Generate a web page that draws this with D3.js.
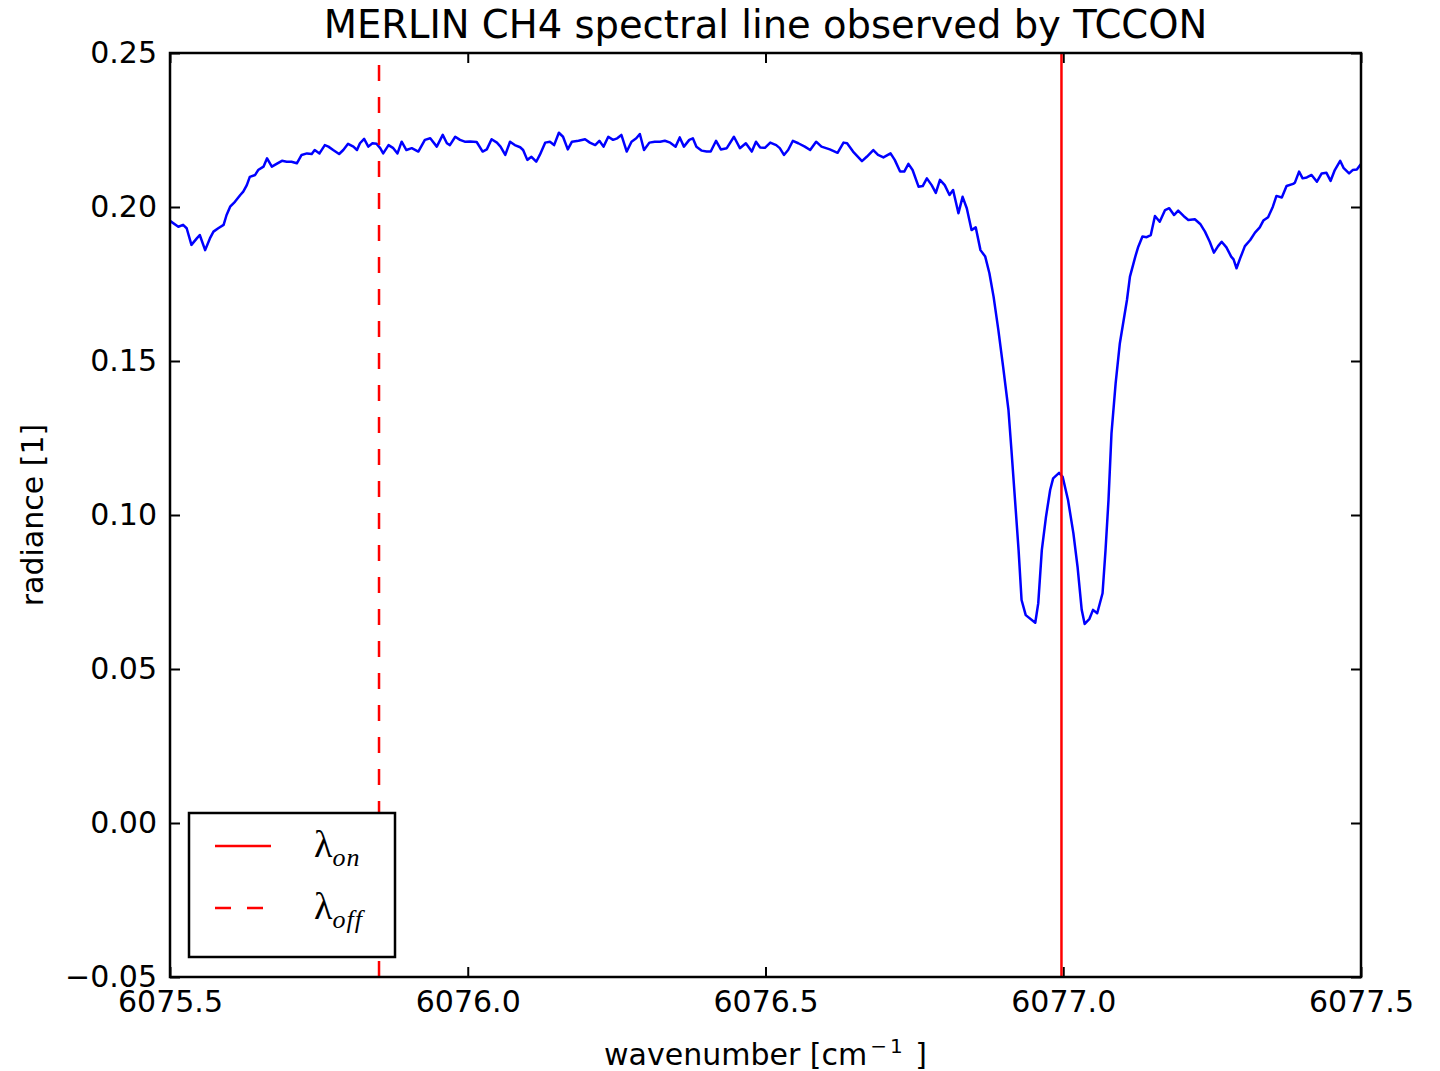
<!DOCTYPE html>
<html>
<head>
<meta charset="utf-8">
<script src="https://cdn.jsdelivr.net/npm/d3@7"></script>
<style>
body { margin: 0; background: #fff; }
</style>
</head>
<body>
<script>
// spectrum (wavenumber in cm^-1, radiance)
var wavenumber = [
  6075.500, 6075.514, 6075.522, 6075.528, 6075.536, 6075.545, 6075.550, 6075.559, 6075.567, 6075.573,
  6075.581, 6075.590, 6075.595, 6075.601, 6075.609, 6075.618, 6075.623, 6075.629, 6075.634, 6075.643,
  6075.648, 6075.657, 6075.663, 6075.671, 6075.679, 6075.688, 6075.696, 6075.704, 6075.713, 6075.721,
  6075.730, 6075.738, 6075.743, 6075.751, 6075.760, 6075.766, 6075.774, 6075.784, 6075.791, 6075.799,
  6075.808, 6075.814, 6075.819, 6075.826, 6075.833, 6075.840, 6075.847, 6075.853, 6075.858, 6075.867,
  6075.875, 6075.882, 6075.889, 6075.897, 6075.906, 6075.917, 6075.928, 6075.937, 6075.948, 6075.958,
  6075.965, 6075.970, 6075.979, 6075.987, 6075.995, 6076.004, 6076.015, 6076.025, 6076.032, 6076.040,
  6076.049, 6076.055, 6076.063, 6076.071, 6076.079, 6076.088, 6076.093, 6076.100, 6076.107, 6076.115,
  6076.121, 6076.130, 6076.138, 6076.145, 6076.153, 6076.160, 6076.168, 6076.175, 6076.186, 6076.197,
  6076.205, 6076.214, 6076.221, 6076.228, 6076.236, 6076.244, 6076.251, 6076.258, 6076.267, 6076.275,
  6076.283, 6076.289, 6076.296, 6076.305, 6076.314, 6076.323, 6076.331, 6076.340, 6076.349, 6076.356,
  6076.363, 6076.372, 6076.378, 6076.384, 6076.393, 6076.401, 6076.408, 6076.417, 6076.425, 6076.435,
  6076.447, 6076.457, 6076.467, 6076.477, 6076.484, 6076.491, 6076.499, 6076.508, 6076.518, 6076.524,
  6076.531, 6076.538, 6076.546, 6076.555, 6076.566, 6076.575, 6076.585, 6076.594, 6076.608, 6076.621,
  6076.631, 6076.637, 6076.647, 6076.662, 6076.670, 6076.681, 6076.689, 6076.698, 6076.710, 6076.717,
  6076.726, 6076.733, 6076.740, 6076.747, 6076.757, 6076.764, 6076.771, 6076.779, 6076.786, 6076.793,
  6076.801, 6076.809, 6076.815, 6076.824, 6076.831, 6076.838, 6076.846, 6076.853, 6076.861, 6076.869,
  6076.876, 6076.883, 6076.891, 6076.899, 6076.908, 6076.913, 6076.919, 6076.925, 6076.930, 6076.937,
  6076.953, 6076.958, 6076.964, 6076.971, 6076.978, 6076.983, 6076.993, 6076.999, 6077.008, 6077.017,
  6077.024, 6077.031, 6077.036, 6077.044, 6077.050, 6077.057, 6077.066, 6077.071, 6077.076, 6077.081,
  6077.088, 6077.095, 6077.107, 6077.112, 6077.121, 6077.126, 6077.133, 6077.140, 6077.147, 6077.154,
  6077.162, 6077.171, 6077.178, 6077.186, 6077.193, 6077.202, 6077.210, 6077.221, 6077.230, 6077.238,
  6077.246, 6077.253, 6077.260, 6077.266, 6077.274, 6077.282, 6077.286, 6077.291, 6077.297, 6077.305,
  6077.314, 6077.322, 6077.330, 6077.336, 6077.344, 6077.352, 6077.358, 6077.367, 6077.375, 6077.386,
  6077.389, 6077.396, 6077.402, 6077.409, 6077.417, 6077.426, 6077.434, 6077.442, 6077.449, 6077.456,
  6077.465, 6077.471, 6077.480, 6077.486, 6077.493, 6077.500
];
var radiance = [
  0.1955, 0.1936, 0.1942, 0.1931, 0.1877, 0.1898, 0.1909, 0.1860, 0.1898, 0.1920,
  0.1931, 0.1942, 0.1974, 0.2001, 0.2017, 0.2039, 0.2050, 0.2071, 0.2098, 0.2104,
  0.2120, 0.2131, 0.2158, 0.2131, 0.2140, 0.2150, 0.2147, 0.2147, 0.2142, 0.2169,
  0.2174, 0.2172, 0.2185, 0.2174, 0.2201, 0.2196, 0.2185, 0.2172, 0.2185, 0.2205,
  0.2196, 0.2185, 0.2207, 0.2221, 0.2196, 0.2207, 0.2205, 0.2191, 0.2174, 0.2201,
  0.2191, 0.2174, 0.2212, 0.2185, 0.2191, 0.2180, 0.2218, 0.2223, 0.2196, 0.2234,
  0.2207, 0.2201, 0.2228, 0.2218, 0.2212, 0.2213, 0.2211, 0.2180, 0.2187, 0.2220,
  0.2209, 0.2196, 0.2169, 0.2212, 0.2201, 0.2194, 0.2185, 0.2153, 0.2163, 0.2147,
  0.2169, 0.2209, 0.2212, 0.2201, 0.2241, 0.2228, 0.2187, 0.2212, 0.2215, 0.2220,
  0.2209, 0.2201, 0.2215, 0.2196, 0.2228, 0.2218, 0.2223, 0.2234, 0.2180, 0.2212,
  0.2223, 0.2237, 0.2185, 0.2209, 0.2212, 0.2212, 0.2215, 0.2209, 0.2196, 0.2226,
  0.2196, 0.2218, 0.2223, 0.2196, 0.2183, 0.2180, 0.2180, 0.2215, 0.2187, 0.2191,
  0.2228, 0.2191, 0.2207, 0.2180, 0.2212, 0.2193, 0.2192, 0.2209, 0.2201, 0.2191,
  0.2169, 0.2185, 0.2215, 0.2207, 0.2196, 0.2185, 0.2212, 0.2196, 0.2187, 0.2176,
  0.2209, 0.2207, 0.2180, 0.2149, 0.2163, 0.2185, 0.2169, 0.2161, 0.2174, 0.2153,
  0.2115, 0.2115, 0.2140, 0.2120, 0.2066, 0.2068, 0.2093, 0.2071, 0.2046, 0.2088,
  0.2071, 0.2039, 0.2055, 0.1980, 0.2033, 0.1996, 0.1925, 0.1934, 0.1860, 0.1839,
  0.1785, 0.1709, 0.1601, 0.1482, 0.1341, 0.1211, 0.1049, 0.0886, 0.0724, 0.0675,
  0.0650, 0.0713, 0.0886, 0.0994, 0.1081, 0.1119, 0.1137, 0.1124, 0.1049, 0.0941,
  0.0832, 0.0692, 0.0646, 0.0663, 0.0692, 0.0681, 0.0746, 0.0886, 0.1049, 0.1265,
  0.1428, 0.1557, 0.1698, 0.1774, 0.1839, 0.1871, 0.1904, 0.1902, 0.1909, 0.1971,
  0.1952, 0.1990, 0.1996, 0.1974, 0.1988, 0.1971, 0.1958, 0.1960, 0.1945, 0.1920,
  0.1887, 0.1852, 0.1873, 0.1887, 0.1869, 0.1839, 0.1830, 0.1801, 0.1833, 0.1873,
  0.1893, 0.1917, 0.1934, 0.1956, 0.1967, 0.2001, 0.2036, 0.2031, 0.2068, 0.2075,
  0.2079, 0.2115, 0.2093, 0.2096, 0.2104, 0.2082, 0.2109, 0.2111, 0.2085, 0.2120,
  0.2150, 0.2126, 0.2109, 0.2120, 0.2122, 0.2140
];

// the two MERLIN wavenumbers
var lambdaOn = 6076.997,
    lambdaOff = 6075.851;

var xTicks = [6075.5, 6076.0, 6076.5, 6077.0, 6077.5];
var yTicks = [-0.05, 0.00, 0.05, 0.10, 0.15, 0.20, 0.25];

// canvas size and plot box
var width = 1440,
    height = 1071;
var plotLeft = 170, plotRight = 1361, plotTop = 53, plotBottom = 977;

var x = d3.scaleLinear().domain([6075.5, 6077.5]).range([plotLeft, plotRight]);
var y = d3.scaleLinear().domain([-0.05, 0.25]).range([plotBottom, plotTop]);

var svg = d3.select("body").append("svg")
    .attr("width", width)
    .attr("height", height)
    .style("font-family", "'DejaVu Sans', sans-serif");

svg.append("rect").attr("width", width).attr("height", height).attr("fill", "#fff");

var fmtX = d3.format(".1f");
var fmtY = function(d) { return d3.format(".2f")(d).replace("-", "\u2212"); };

// axes, ticks pointing inwards on all four sides
var gx = svg.append("g")
    .attr("transform", "translate(0," + plotBottom + ")")
    .call(d3.axisBottom(x).tickValues(xTicks).tickFormat(fmtX)
        .tickSizeInner(-10).tickSizeOuter(0).tickPadding(14));
var gy = svg.append("g")
    .attr("transform", "translate(" + plotLeft + ",0)")
    .call(d3.axisLeft(y).tickValues(yTicks).tickFormat(fmtY)
        .tickSizeInner(-10).tickSizeOuter(0).tickPadding(13));
var gxTop = svg.append("g")
    .attr("transform", "translate(0," + plotTop + ")")
    .call(d3.axisTop(x).tickValues(xTicks).tickFormat("")
        .tickSizeInner(-10).tickSizeOuter(0));
var gyRight = svg.append("g")
    .attr("transform", "translate(" + plotRight + ",0)")
    .call(d3.axisRight(y).tickValues(yTicks).tickFormat("")
        .tickSizeInner(-10).tickSizeOuter(0));

[gx, gy, gxTop, gyRight].forEach(function(g) {
  g.attr("font-family", null).attr("font-size", null);
  g.select(".domain").remove();
  g.selectAll(".tick line").attr("stroke", "#000").attr("stroke-width", 2);
  g.selectAll(".tick text").attr("fill", "#000").style("font-size", "30px");
});

// spectrum
var line = d3.line()
    .x(function(d, i) { return x(wavenumber[i]); })
    .y(function(d) { return y(d); });

svg.append("path")
    .datum(radiance)
    .attr("d", line)
    .attr("fill", "none")
    .attr("stroke", "#0000ff")
    .attr("stroke-width", 2.5)
    .attr("stroke-linejoin", "round");

// vertical markers, drawn bottom to top like axvline
svg.append("line")
    .attr("x1", x(lambdaOn)).attr("x2", x(lambdaOn))
    .attr("y1", y(-0.05)).attr("y2", y(0.25))
    .attr("stroke", "#ff0000").attr("stroke-width", 2.5);
svg.append("line")
    .attr("x1", x(lambdaOff)).attr("x2", x(lambdaOff))
    .attr("y1", y(-0.05)).attr("y2", y(0.25))
    .attr("stroke", "#ff0000").attr("stroke-width", 2.5)
    .attr("stroke-dasharray", "16,16");

// frame
svg.append("rect")
    .attr("x", plotLeft).attr("y", plotTop)
    .attr("width", plotRight - plotLeft).attr("height", plotBottom - plotTop)
    .attr("fill", "none").attr("stroke", "#000").attr("stroke-width", 2.5);

// title and labels
svg.append("text")
    .attr("x", (plotLeft + plotRight) / 2).attr("y", 38)
    .attr("text-anchor", "middle").style("font-size", "38.5px")
    .text("MERLIN CH4 spectral line observed by TCCON");

svg.append("text")
    .attr("transform", "translate(43," + (plotTop + plotBottom) / 2 + ") rotate(-90)")
    .attr("text-anchor", "middle").style("font-size", "30px")
    .text("radiance [1]");

var xl = svg.append("text")
    .attr("x", (plotLeft + plotRight) / 2).attr("y", 1065)
    .attr("text-anchor", "middle").style("font-size", "30px");
xl.append("tspan").text("wavenumber [cm");
xl.append("tspan").attr("dx", 3).attr("dy", -12).style("font-size", "20px")
    .attr("letter-spacing", 3).text("\u22121");
xl.append("tspan").attr("dy", 12).text(" ]");

// legend
var legend = svg.append("g");
legend.append("rect")
    .attr("x", 189).attr("y", 813).attr("width", 206).attr("height", 144)
    .attr("fill", "#fff").attr("stroke", "#000").attr("stroke-width", 2.5);

var legendItems = [
  {sub: "on", dash: null, y: 846},
  {sub: "off", dash: "16,16", y: 908}
];
legendItems.forEach(function(d) {
  legend.append("line")
      .attr("x1", 215).attr("x2", 271)
      .attr("y1", d.y).attr("y2", d.y)
      .attr("stroke", "#ff0000").attr("stroke-width", 2.5)
      .attr("stroke-dasharray", d.dash);
  var t = legend.append("text")
      .attr("x", 314).attr("y", d.y + 11)
      .style("font-family", "'Liberation Serif', serif").style("font-size", "38px");
  t.append("tspan").text("\u03bb");
  t.append("tspan").attr("dy", 9).style("font-size", "26px")
      .style("font-style", "italic").attr("letter-spacing", 1).text(d.sub);
});
</script>
</body>
</html>
